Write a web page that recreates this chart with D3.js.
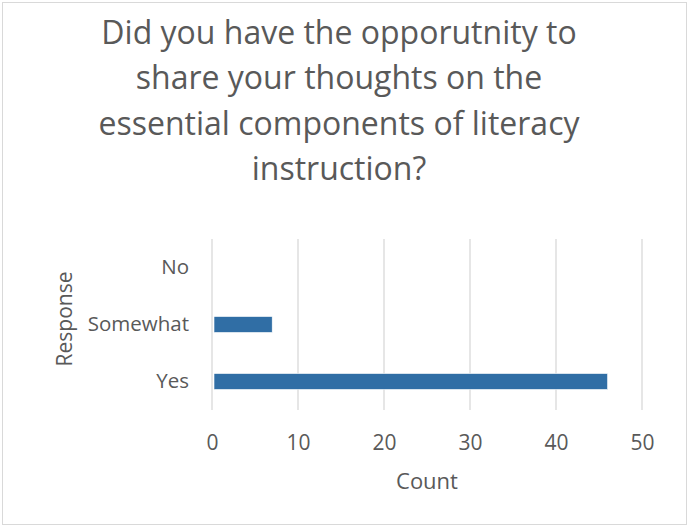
<!DOCTYPE html>
<html><head><meta charset="utf-8">
<script src="https://cdn.jsdelivr.net/npm/d3@7"></script>
<style>body{margin:0;background:#fff}svg{display:block}text{font-family:"Open Sans",sans-serif;fill:#595959}</style>
</head><body>
<script>
const titleLines = ["Did you have the opporutnity to","share your thoughts on the","essential components of literacy","instruction?"];
const categories = ["No","Somewhat","Yes"];
const values = [0, 7, 46];
const xTicks = [0,10,20,30,40,50];
const xTitle = "Count";
const yTitle = "Response";

const W = 689, H = 527;
const svg = d3.select("body").append("svg").attr("width",W).attr("height",H);
svg.append("rect").attr("x",2.5).attr("y",2.5).attr("width",W-5).attr("height",H-5)
  .attr("fill","#fff").attr("stroke","#d9d9d9");

const m = {left:212, right:642, top:239, bottom:410};
const x = d3.scaleLinear().domain([0,50]).range([m.left,m.right]);
const y = d3.scaleBand().domain(categories).range([m.top,m.bottom]).paddingInner(0.72).paddingOuter(0.36);

// title
const t = svg.append("g");
titleLines.forEach((s,i)=>{
  t.append("text").attr("x",339).attr("y",44+i*45.3).attr("text-anchor","middle")
   .style("font-size","32px").text(s);
});

// grid
svg.append("g").selectAll("line").data(xTicks).join("line")
  .attr("x1",d=>x(d)).attr("x2",d=>x(d)).attr("y1",m.top).attr("y2",m.bottom)
  .attr("stroke","#d9d9d9").attr("stroke-width",1.3);

// bars
svg.append("g").selectAll("rect").data(categories.map((c,i)=>({c,v:values[i]})).filter(d=>d.v>0)).join("rect")
  .attr("x",x(0)+2).attr("y",d=>y(d.c)).attr("width",d=>x(d.v)-x(0)-2).attr("height",y.bandwidth())
  .attr("fill","#306EA5").attr("stroke","#fff").attr("stroke-width",0.6);

// x axis labels
const xa = svg.append("g").attr("transform",`translate(0,${m.bottom})`)
  .call(d3.axisBottom(x).tickValues(xTicks).tickSize(0).tickPadding(25));
xa.select(".domain").remove();
xa.selectAll("text").style("font-size","21px").attr("fill","#595959").style("font-family","'Open Sans',sans-serif");

// y axis labels
const ya = svg.append("g").attr("transform",`translate(${m.left},0)`)
  .call(d3.axisLeft(y).tickSize(0).tickPadding(23));
ya.select(".domain").remove();
ya.selectAll("text").style("font-size","20.5px").attr("fill","#595959").style("font-family","'Open Sans',sans-serif");

svg.append("text").attr("x",(m.left+m.right)/2).attr("y",489).attr("text-anchor","middle")
  .style("font-size","22px").text(xTitle);
svg.append("text").attr("transform","translate(72,319) rotate(-90)").attr("text-anchor","middle")
  .style("font-size","21px").text(yTitle);
</script>
</body></html>
